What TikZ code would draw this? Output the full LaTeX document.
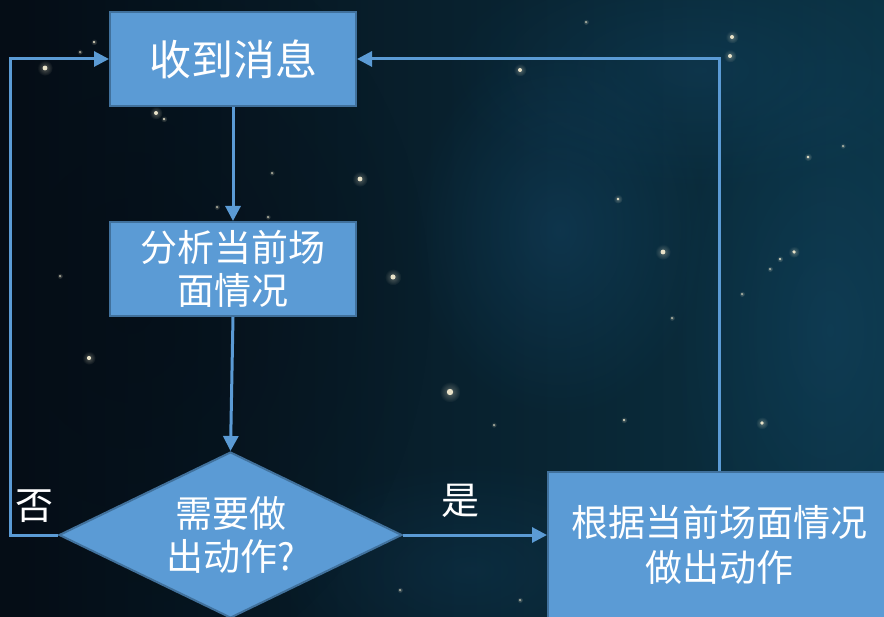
\documentclass[tikz,border=0pt]{standalone}
\usepackage{fontspec}
\setmainfont{Noto Sans CJK SC}
\usetikzlibrary{shapes.geometric,arrows.meta,fadings}
\definecolor{boxfill}{HTML}{5B9BD5}
\definecolor{boxline}{HTML}{41719C}
\definecolor{bgleft}{HTML}{050D16}
\definecolor{bgright}{HTML}{0B3344}
\definecolor{nebula}{HTML}{1A5A86}
\definecolor{starcol}{HTML}{E8E2C8}
\tikzfading[name=softglow, inner color=transparent!0, outer color=transparent!100]
\tikzset{
  procbox/.style={rectangle, fill=boxfill, draw=boxline, line width=2pt, text=white, align=center, inner sep=0pt},
  decision/.style={diamond, fill=boxfill, draw=boxline, line width=2pt, text=white, align=center, inner sep=0pt, shape aspect=2.07, minimum width=343pt, minimum height=166pt},
  flow/.style={draw=boxfill, line width=3pt, -{Triangle[length=15pt,width=15pt]}},
  lbl/.style={text=white, inner sep=0pt},
  star/.style={fill=starcol},
  glow/.style={fill=starcol, opacity=0.35, path fading=softglow}
}
\newcommand{\mystar}[3]{\fill[glow] (#1,#2) circle (#3*2.6); \fill[star] (#1,#2) circle (#3*0.8);}
\begin{document}
\begin{tikzpicture}[x=1pt,y=-1pt]
\clip (0,0) rectangle (884,617);
\useasboundingbox (0,0) rectangle (884,617);
% background
\shade[left color=bgleft, right color=bgright] (0,0) rectangle (884,617);
\fill[nebula, opacity=0.30, path fading=softglow] (560,230) ellipse (150 and 190);
\fill[nebula, opacity=0.25, path fading=softglow] (830,330) ellipse (160 and 300);
\fill[nebula, opacity=0.22, path fading=softglow] (700,70) ellipse (260 and 120);
\fill[nebula, opacity=0.18, path fading=softglow] (470,570) ellipse (200 and 110);
\fill[bgleft, opacity=0.55, path fading=softglow] (130,300) ellipse (300 and 380);
% stars
\mystar{45}{68}{3}
\mystar{156}{113}{2.5}
\mystar{360}{179}{3}
\mystar{393}{277}{3.2}
\mystar{450}{392}{4}
\mystar{89}{358}{2.6}
\mystar{94}{42}{1.3}
\mystar{80}{52}{1.1}
\mystar{164}{119}{1.3}
\mystar{272}{173}{1.1}
\mystar{60}{276}{1.2}
\mystar{217}{207}{1.2}
\mystar{268}{217}{1.1}
\mystar{586}{22}{1.2}
\mystar{732}{37}{2.5}
\mystar{730}{56}{2.5}
\mystar{520}{70}{2.5}
\mystar{618}{199}{1.8}
\mystar{663}{252}{3}
\mystar{808}{157}{1.6}
\mystar{794}{252}{2.2}
\mystar{780}{259}{1.3}
\mystar{770}{269}{1.2}
\mystar{742}{294}{1.2}
\mystar{843}{146}{1.1}
\mystar{672}{318}{1.2}
\mystar{762}{423}{2.4}
\mystar{624}{420}{1.3}
\mystar{494}{425}{1.1}
\mystar{400}{590}{1.2}
\mystar{520}{600}{1.2}
% nodes
\node[procbox, minimum width=246pt, minimum height=94pt, font=\fontsize{42}{46}\selectfont] (b1) at (233,59) {收到消息};
\node[procbox, minimum width=246pt, minimum height=94pt, font=\fontsize{37}{43}\selectfont] (b2) at (233,269) {分析当前场\\面情况};
\node[decision, font=\fontsize{37}{43}\selectfont] (d) at (230.5,535) {需要做\\出动作?};
\node[procbox, minimum width=342pt, minimum height=146pt, font=\fontsize{37}{45}\selectfont] (b3) at (719,545) {根据当前场面情况\\做出动作};
\node[lbl, font=\fontsize{38}{40}\selectfont] (no) at (35,506) {否};
\node[lbl, font=\fontsize{38}{40}\selectfont] (yes) at (460,501) {是};
\coordinate (lc) at (10,535);
% connectors
\draw[flow] (b1.south) -- (b2.north);
\draw[flow] (b2.south) -- (d.north);
\draw[flow] (d.west) -- (lc) |- (b1.west);
\draw[flow] (d.east) -- (b3.west |- d.east);
\draw[flow] (b3.north) |- (b1.east);
\end{tikzpicture}
\end{document}
